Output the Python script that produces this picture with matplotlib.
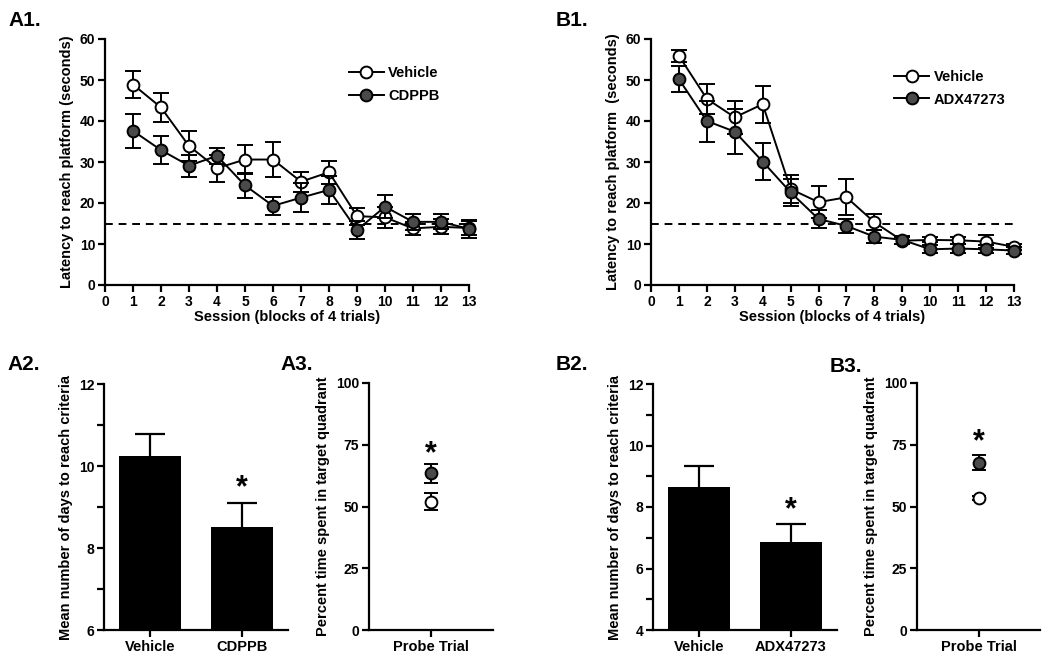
import matplotlib
matplotlib.use("Agg")
import matplotlib.pyplot as plt
from matplotlib.lines import Line2D
import numpy as np

plt.rcParams['font.family'] = ['Liberation Sans', 'DejaVu Sans']
plt.rcParams['font.weight'] = 'bold'
plt.rcParams['axes.labelweight'] = 'bold'

W, H = 1050, 665
FILL = '#4a4a4a'

# ---------------- data ----------------
sessions = list(range(1, 14))

a1_vehicle = [48.9, 43.3, 33.9, 28.5, 30.6, 30.6, 25.2, 27.5, 16.8, 16.5, 13.8, 14.2, 13.9]
a1_vehicle_err = [3.2, 3.6, 3.7, 3.3, 3.6, 4.2, 2.4, 2.8, 2.1, 2.5, 1.5, 1.8, 1.8]
a1_drug = [37.6, 32.9, 29.1, 31.5, 24.3, 19.3, 21.3, 23.2, 13.4, 19.1, 15.4, 15.4, 13.7]
a1_drug_err = [4.1, 3.5, 2.7, 2.0, 3.0, 2.2, 3.6, 3.5, 2.2, 2.8, 2.0, 1.8, 2.2]

b1_vehicle = [55.9, 45.4, 40.9, 44.1, 23.4, 20.2, 21.4, 15.3, 10.8, 11.0, 10.9, 10.6, 9.3]
b1_vehicle_err = [1.4, 3.6, 4.0, 4.5, 3.5, 3.9, 4.4, 2.0, 0.8, 0.6, 0.8, 1.6, 0.8]
b1_drug = [50.2, 40.0, 37.4, 30.1, 22.6, 16.1, 14.4, 11.8, 11.0, 8.7, 8.9, 8.7, 8.4]
b1_drug_err = [3.2, 5.0, 5.5, 4.5, 3.3, 2.1, 1.8, 1.6, 0.9, 1.0, 1.0, 1.0, 0.8]

criterion = 15

a2_groups = ['Vehicle', 'CDPPB']
a2_means = [10.25, 8.52]
a2_err = [0.53, 0.57]

b2_groups = ['Vehicle', 'ADX47273']
b2_means = [8.66, 6.85]
b2_err = [0.68, 0.61]

a3_vehicle, a3_vehicle_err = 52.0, 3.5
a3_drug, a3_drug_err = 63.5, 3.8
b3_vehicle, b3_vehicle_err = 53.6, 0.8
b3_drug, b3_drug_err = 67.8, 3.0

probe_label = ['Probe Trial']

# ---------------- helpers ----------------
fig = plt.figure(figsize=(W / 100, H / 100), dpi=100)


def axes_px(left, right, top, bottom):
    return fig.add_axes([left / W, (H - bottom) / H, (right - left) / W, (bottom - top) / H])


def style(ax, fs=10):
    for s in ['top', 'right']:
        ax.spines[s].set_visible(False)
    for s in ['left', 'bottom']:
        ax.spines[s].set_linewidth(1.6)
    ax.tick_params(direction='out', width=1.6, length=5, labelsize=fs, pad=2)
    ax.tick_params(which='minor', direction='out', width=1.6, length=5)
    for lab in ax.get_xticklabels() + ax.get_yticklabels():
        lab.set_fontweight('bold')


def line_panel(ax, veh, veh_err, drug, drug_err, drug_name, ylabel, leg_y):
    ax.axhline(criterion, xmin=0, xmax=1, color='black', lw=1.4, ls=(0, (4, 3)), zorder=1)
    ax.errorbar(sessions, veh, yerr=veh_err, color='black', lw=1.4, marker='o', ms=8.5,
                mfc='white', mec='black', mew=1.4, capsize=5.5, capthick=1.4,
                elinewidth=1.4, zorder=3, clip_on=False)
    ax.errorbar(sessions, drug, yerr=drug_err, color='black', lw=1.4, marker='o', ms=8.5,
                mfc=FILL, mec='black', mew=1.4, capsize=5.5, capthick=1.4,
                elinewidth=1.4, zorder=4, clip_on=False)
    ax.set_xlim(0, 13)
    ax.set_ylim(0, 60)
    ax.set_xticks(range(0, 14))
    ax.set_yticks(range(0, 61, 10))
    ax.set_xlabel('Session (blocks of 4 trials)', fontsize=10.5, labelpad=1)
    ax.set_ylabel(ylabel, fontsize=10.5, labelpad=4)
    style(ax)
    handles = [
        Line2D([], [], color='black', lw=1.4, marker='o', ms=8.5, mfc='white', mec='black', mew=1.4),
        Line2D([], [], color='black', lw=1.4, marker='o', ms=8.5, mfc=FILL, mec='black', mew=1.4),
    ]
    leg = ax.legend(handles, ['Vehicle', drug_name], loc='upper left',
                    bbox_to_anchor=(0.67, leg_y), frameon=False, fontsize=10.5,
                    handlelength=2.4, handletextpad=0.3, labelspacing=0.6,
                    borderaxespad=0, borderpad=0)
    for t in leg.get_texts():
        t.set_fontweight('bold')


def bar_panel(ax, groups, means, errs, ylim, yticks, minor, star_y):
    x = np.arange(len(groups))
    means = np.asarray(means)
    errs = np.asarray(errs)
    ax.bar(x, means, width=0.68, color='black', zorder=2)
    # upward-only error bar: stem + single top cap
    ax.errorbar(x, means, yerr=[np.zeros_like(errs), errs], fmt='none', ecolor='black',
                elinewidth=1.6, capsize=0, zorder=1)
    ax.plot(x, means + errs, ls='none', marker='_', ms=22, mew=1.6, color='black', zorder=1)
    ax.set_xlim(-0.5, 1.5)
    ax.set_ylim(*ylim)
    ax.set_xticks(x)
    ax.set_xticklabels(groups)
    ax.set_yticks(yticks)
    ax.set_yticks(minor, minor=True)
    ax.set_ylabel('Mean number of days to reach criteria', fontsize=10.5, labelpad=4)
    style(ax)
    for lab in ax.get_xticklabels():
        lab.set_fontsize(10.5)
    ax.text(1, star_y, '*', ha='center', va='center', fontsize=22, fontweight='bold')


def probe_panel(ax, veh, veh_err, drug, drug_err, star_y):
    ax.errorbar([0], [veh], yerr=[veh_err], fmt='o', ms=8.5, mfc='white', mec='black', mew=1.4,
                ecolor='black', elinewidth=1.5, capsize=5, capthick=1.5, zorder=3)
    ax.errorbar([0], [drug], yerr=[drug_err], fmt='o', ms=8.5, mfc=FILL, mec='black', mew=1.4,
                ecolor='black', elinewidth=1.5, capsize=5, capthick=1.5, zorder=3)
    ax.set_xlim(-1, 1)
    ax.set_ylim(0, 100)
    ax.set_xticks([0])
    ax.set_xticklabels(probe_label)
    ax.set_yticks([0, 25, 50, 75, 100])
    ax.set_ylabel('Percent time spent in target quadrant', fontsize=10.5, labelpad=4)
    style(ax)
    for lab in ax.get_xticklabels():
        lab.set_fontsize(10.5)
    ax.text(0, star_y, '*', ha='center', va='center', fontsize=22, fontweight='bold')


# ---------------- panels ----------------
axA1 = axes_px(105, 469, 39, 285)
line_panel(axA1, a1_vehicle, a1_vehicle_err, a1_drug, a1_drug_err, 'CDPPB',
           'Latency to reach platform (seconds)', 0.89)

axB1 = axes_px(651, 1014, 39, 285)
line_panel(axB1, b1_vehicle, b1_vehicle_err, b1_drug, b1_drug_err, 'ADX47273',
           'Latency to reach platform  (seconds)', 0.875)

axA2 = axes_px(104, 288, 384, 630)
bar_panel(axA2, a2_groups, a2_means, a2_err, (6, 12), [6, 8, 10, 12], [7, 9, 11], 9.45)

axA3 = axes_px(369, 493, 383, 630)
probe_panel(axA3, a3_vehicle, a3_vehicle_err, a3_drug, a3_drug_err, 71)

axB2 = axes_px(653, 837, 384, 630)
bar_panel(axB2, b2_groups, b2_means, b2_err, (4, 12), [4, 6, 8, 10, 12], [5, 7, 9, 11], 7.9)

axB3 = axes_px(917, 1040, 383, 630)
probe_panel(axB3, b3_vehicle, b3_vehicle_err, b3_drug, b3_drug_err, 76)

# panel letters
for txt, x, y in [('A1.', 8, 21), ('B1.', 556, 21), ('A2.', 7, 364), ('A3.', 280, 364),
                  ('B2.', 556, 364), ('B3.', 830, 366)]:
    fig.text(x / W, 1 - y / H, txt, fontsize=15, fontweight='bold', va='center', ha='left')

fig.savefig('out.png', dpi=100)
